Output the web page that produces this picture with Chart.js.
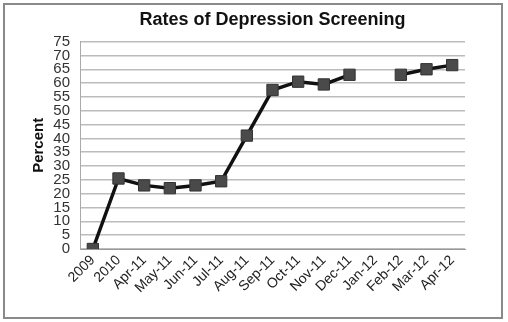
<!DOCTYPE html>
<html>
<head>
<meta charset="utf-8">
<script src="https://cdn.jsdelivr.net/npm/chart.js@4"></script>
<style>
  html, body { margin: 0; padding: 0; background: #fff; }
  #wrap { position: absolute; left: 0; top: 0; width: 508px; height: 322px; }
</style>
</head>
<body>
<div id="wrap"><canvas id="chart" width="508" height="322"></canvas></div>
<script>
'use strict';

// Chart data.
const months = ['2009', '2010', 'Apr-11', 'May-11', 'Jun-11', 'Jul-11', 'Aug-11',
    'Sep-11', 'Oct-11', 'Nov-11', 'Dec-11', 'Jan-12', 'Feb-12', 'Mar-12', 'Apr-12'];
const screeningRates = [0, 25.5, 23, 22, 23, 24.5, 41, 57.5, 60.5, 59.5, 63, null, 63, 65, 66.5];
const yTicks = [0, 5, 10, 15, 20, 25, 30, 35, 40, 45, 50, 55, 60, 65, 70, 75];

const FONT = 'Arial, "Liberation Sans", sans-serif';

// Grey frame around the whole chart, like the spreadsheet chart area.
const frame = {
    id: 'frame',
    beforeDraw: (chart) => {
        const ctx = chart.ctx;
        ctx.save();
        ctx.fillStyle = '#fff';
        ctx.fillRect(0, 0, chart.width, chart.height);
        ctx.restore();
    },
    afterDraw: (chart) => {
        const ctx = chart.ctx;
        ctx.save();
        ctx.strokeStyle = '#8a8a8a';
        ctx.lineWidth = 2;
        ctx.strokeRect(4, 4, 498, 314);
        ctx.restore();
    },
};

new Chart(document.getElementById('chart'), {
    type: 'line',
    data: {
        labels: months,
        datasets: [{
            data: screeningRates,
            borderColor: '#111',
            borderWidth: 3.5,
            pointStyle: 'rect',
            pointRadius: 8,
            pointBackgroundColor: '#4a4a4a',
            pointBorderColor: '#333',
            pointBorderWidth: 1,
            spanGaps: false,
            tension: 0,
        }],
    },
    options: {
        responsive: false,
        animation: false,
        layout: {padding: {left: 30, right: 43, top: 0, bottom: 0}},
        plugins: {
            legend: {display: false},
            tooltip: {enabled: false},
            title: {
                display: true,
                fullSize: false,
                text: 'Rates of Depression Screening',
                color: '#111',
                font: {family: FONT, size: 18, weight: 'bold'},
                padding: {top: 9, bottom: 11},
            },
        },
        scales: {
            x: {
                offset: true,
                afterFit: (axis) => {
                    axis.height = 73;
                },
                grid: {display: false, drawTicks: false},
                border: {display: true, color: '#999', width: 1},
                ticks: {
                    color: '#222',
                    font: {family: FONT, size: 14},
                    maxRotation: 45,
                    minRotation: 45,
                    autoSkip: false,
                    padding: 3,
                },
            },
            y: {
                min: 0,
                max: 75,
                afterBuildTicks: (axis) => {
                    axis.ticks = yTicks.map((v) => ({value: v}));
                },
                afterFit: (axis) => {
                    axis.width = 50;
                },
                grid: {color: '#bcbcbc', lineWidth: 1.5, drawTicks: false},
                border: {display: true, color: '#aaa', width: 1},
                ticks: {
                    autoSkip: false,
                    color: '#333',
                    font: {family: FONT, size: 15},
                    padding: 10,
                },
                title: {
                    display: true,
                    text: 'Percent',
                    color: '#111',
                    font: {family: FONT, size: 15, weight: 'bold'},
                    padding: {top: 0, bottom: 0},
                },
            },
        },
    },
    plugins: [frame],
});
</script>
</body>
</html>
